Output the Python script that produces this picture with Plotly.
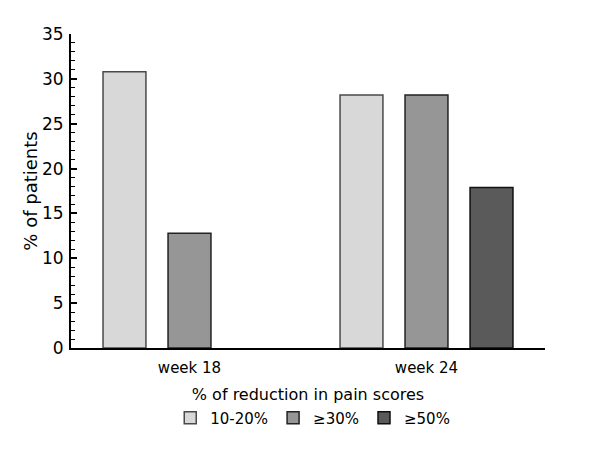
import plotly.graph_objects as go

categories = ["week 18", "week 24"]
series_names = ["10-20%", "≥30%", "≥50%"]
vals_10_20 = [30.8, 28.2]
vals_30 = [12.8, 28.2]
vals_50 = [None, 17.9]
y_ticks = [0, 5, 10, 15, 20, 25, 30, 35]

fills = ["#d8d8d8", "#969696", "#5a5a5a"]
edges = ["#4a4a4a", "#222222", "#111111"]
FONT = "DejaVu Sans"

fig = go.Figure()
for name, vals, fc, ec in zip(series_names, [vals_10_20, vals_30, vals_50], fills, edges):
    fig.add_trace(go.Bar(x=categories, y=vals, name=name,
                         marker=dict(color=fc, line=dict(color=ec, width=1.5))))

fig.update_layout(
    width=592, height=441,
    margin=dict(l=63, r=55, t=26, b=101, autoexpand=False),
    barmode="group", bargap=0.177, bargroupgap=0.34,
    plot_bgcolor="white", paper_bgcolor="white",
    font=dict(family=FONT, color="black", size=15),
    showlegend=True,
    legend=dict(orientation="h", x=0.51, xanchor="center", y=-0.223, yanchor="middle",
                font=dict(size=15), itemwidth=30, traceorder="normal"),
    xaxis=dict(showline=True, linecolor="black", linewidth=2, ticks="", automargin=False,
               tickfont=dict(size=15), ticklabelstandoff=5,
               title=dict(text="% of reduction in pain scores", font=dict(size=16), standoff=13),
               range=[-0.5, 1.5]),
    yaxis=dict(range=[0, 35], tickvals=y_ticks, showline=True, linecolor="black", linewidth=2,
               automargin=False,
               ticks="inside", ticklen=6, tickwidth=1.5, tickcolor="black",
               minor=dict(ticks="inside", ticklen=4, tickwidth=1, tickcolor="black", dtick=1),
               showgrid=False, zeroline=False, tickfont=dict(size=17), ticklabelstandoff=2,
               title=dict(text="% of patients", font=dict(size=18), standoff=0)),
)
fig.write_html("out.html")
